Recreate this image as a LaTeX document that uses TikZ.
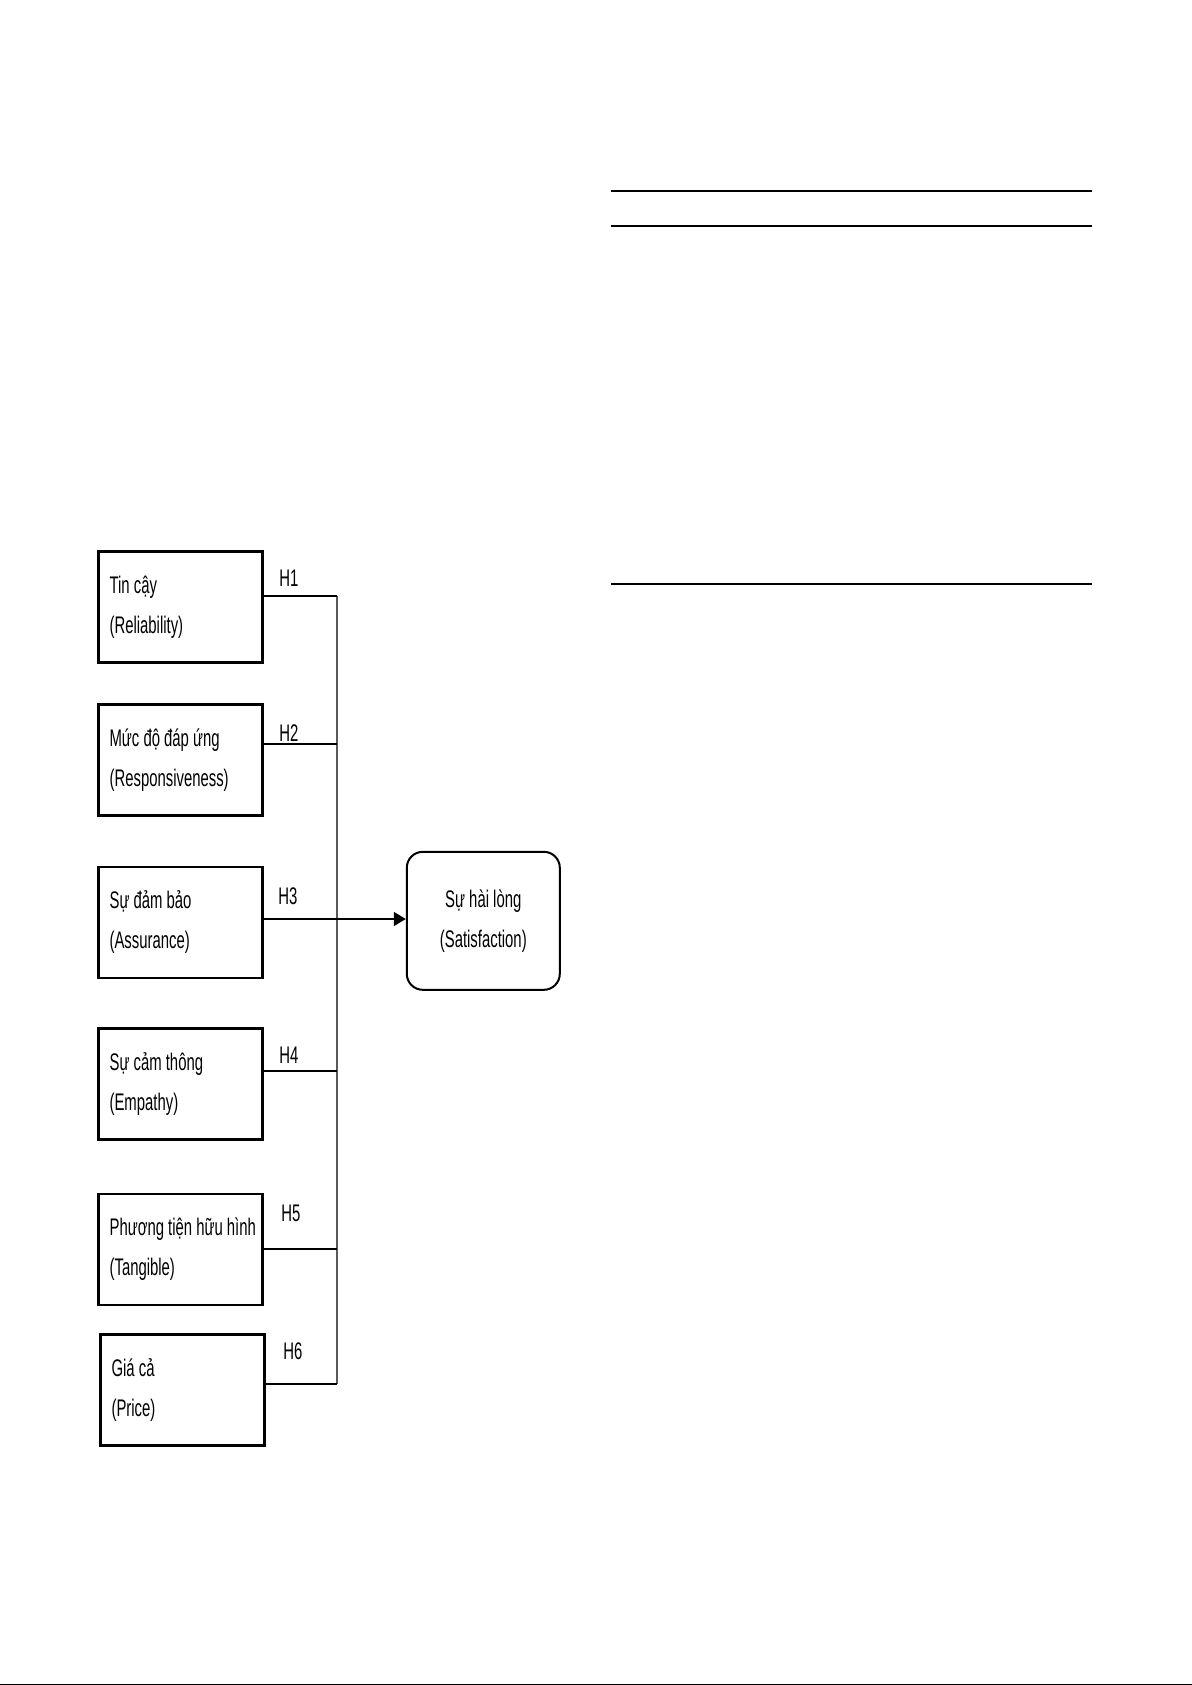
\documentclass[tikz,border=0pt]{standalone}
\usepackage{fontspec}
\setmainfont{Liberation Sans}
\newfontfamily\narrowfont[FakeStretch=0.62]{Liberation Sans}
\usetikzlibrary{arrows.meta}
\tikzset{
	factor/.style={draw,line width=1.3bp,anchor=north west,minimum width=82bp,minimum height=55.5bp,text width=75bp,inner xsep=3.5bp,align=left,font=\narrowfont\fontsize{12bp}{20bp}\selectfont,execute at begin node={\spaceskip=\fontdimen2\font\relax}},
	result/.style={draw,line width=1bp,rounded corners=8bp,minimum width=76.5bp,minimum height=69bp,align=center,font=\narrowfont\fontsize{12bp}{20bp}\selectfont},
	hyp/.style={anchor=west,inner sep=0pt,font=\narrowfont\fontsize{12bp}{14bp}\selectfont},
	link/.style={line width=0.85bp},
	bus/.style={line width=0.6bp,black!65},
	rule/.style={line width=1bp}
}
\begin{document}
\begin{tikzpicture}[x=0.5bp,y=-0.5bp]
	\useasboundingbox (0,0) rectangle (1192,1685);
	\node [factor] (f1) at (97.3,550) {\hspace*{2bp}Tin cậy\\\hspace*{2bp}(Reliability)};
	\node [factor] (f2) at (97.3,703.3) {\hspace*{2bp}Mức độ đáp ứng\\\hspace*{2bp}(Responsiveness)};
	\node [factor] (f3) at (97.3,865.7) {\hspace*{2bp}Sự đảm bảo\\\hspace*{2bp}(Assurance)};
	\node [factor] (f4) at (97.3,1027.3) {\hspace*{2bp}Sự cảm thông\\\hspace*{2bp}(Empathy)};
	\node [factor] (f5) at (97.3,1192.7) {\hspace*{2bp}\mbox{Phương tiện hữu hình}\\\hspace*{2bp}(Tangible)};
	\node [factor] (f6) at (99.3,1333.3) {\hspace*{2bp}Giá cả\\\hspace*{2bp}(Price)};
	\node [result] (sat) at (483.3,920.8) {Sự hài lòng\\(Satisfaction)};

	\coordinate (j1) at (337,596);
	\coordinate (j2) at (337,744);
	\coordinate (j3) at (337,919);
	\coordinate (j4) at (337,1071);
	\coordinate (j5) at (337,1249);
	\coordinate (j6) at (337,1384.3);

	\node [hyp] (h1) at (279,578) {H1};
	\node [hyp] (h2) at (279,732.7) {H2};
	\node [hyp] (h3) at (278,896.7) {H3};
	\node [hyp] (h4) at (279,1055) {H4};
	\node [hyp] (h5) at (281,1213) {H5};
	\node [hyp] (h6) at (283,1351.7) {H6};

	\draw [bus] (j1) -- (j6);
	\draw [link] (f1.east |- j1) -- (j1);
	\draw [link] (f2.east |- j2) -- (j2);
	\draw [link] (f4.east |- j4) -- (j4);
	\draw [link] (f5.east |- j5) -- (j5);
	\draw [link] (f6.east |- j6) -- (j6);
	\draw [link,-{Triangle[length=6bp,width=7bp]}] (f3.east |- j3) -- (sat.west |- j3);

	\draw [rule] (611,190.7) -- (1092,190.7);
	\draw [rule] (611,225.7) -- (1092,225.7);
	\draw [rule] (611,583.7) -- (1092,583.7);
	\draw [line width=0.5bp] (0,1684) -- (1192,1684);
\end{tikzpicture}
\end{document}
